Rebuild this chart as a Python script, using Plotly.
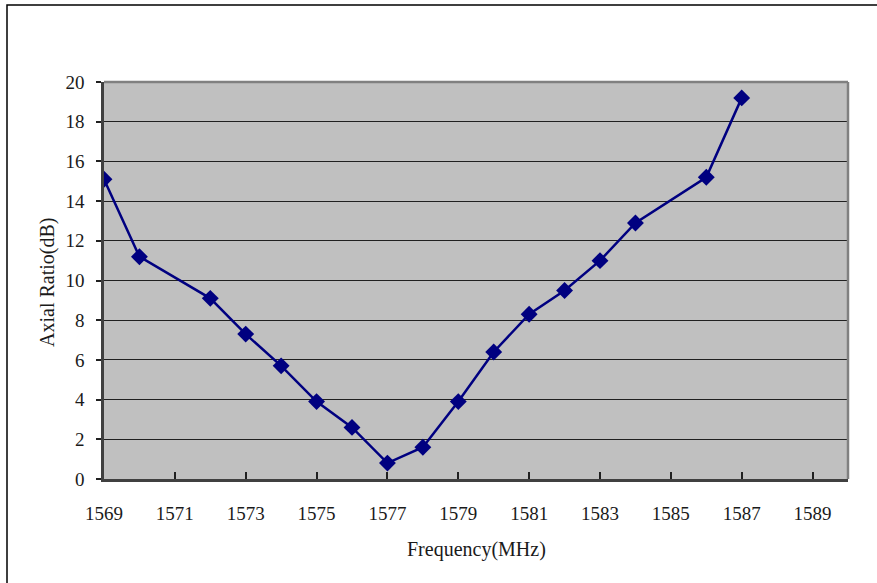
import plotly.graph_objects as go

freq = [1569, 1570, 1572, 1573, 1574, 1575, 1576, 1577, 1578, 1579, 1580, 1581, 1582, 1583, 1584, 1586, 1587]
axial_ratio = [15.1, 11.2, 9.1, 7.3, 5.7, 3.9, 2.6, 0.8, 1.6, 3.9, 6.4, 8.3, 9.5, 11.0, 12.9, 15.2, 19.2]
x_ticks = list(range(1569, 1590, 2))
y_ticks = list(range(0, 21, 2))

FONT = "Liberation Serif"
W, H = 877, 583
L, R, T, B = 104, 29, 82, 104
pw, ph = W - L - R, H - T - B

def px_x(p):
    return (p - L) / pw

def px_y(p):
    return (H - B - p) / ph

fig = go.Figure()
fig.add_trace(go.Scatter(
    x=freq, y=axial_ratio, mode="lines+markers",
    line=dict(color="#000080", width=2.5),
    marker=dict(symbol="diamond", size=13, color="#000080"),
    showlegend=False, hoverinfo="x+y",
))

fig.update_layout(
    width=W, height=H,
    margin=dict(l=L, r=R, t=T, b=B),
    paper_bgcolor="white",
    plot_bgcolor="#C0C0C0",
    font=dict(family=FONT, size=19, color="#1a1a1a"),
    xaxis=dict(
        range=[1569, 1590], tickvals=x_ticks, ticktext=[str(v) for v in x_ticks],
        ticks="inside", ticklen=7, tickwidth=1.5, tickcolor="#202020",
        showline=True, linecolor="#404040", linewidth=2.5,
        showgrid=False, zeroline=False, ticklabelstandoff=15,
        fixedrange=True,
    ),
    yaxis=dict(
        range=[0, 20], tickvals=y_ticks,
        ticks="outside", ticklen=5, tickwidth=1.5, tickcolor="#202020",
        showline=True, linecolor="#404040", linewidth=2.5,
        showgrid=True, gridcolor="#202020", gridwidth=1,
        zeroline=False, ticklabelstandoff=8,
        fixedrange=True,
    ),
    shapes=[
        dict(type="line", xref="paper", yref="paper", x0=0, x1=1, y0=1, y1=1,
             line=dict(color="#808080", width=2.5)),
        dict(type="line", xref="paper", yref="paper", x0=1, x1=1, y0=0, y1=1,
             line=dict(color="#808080", width=2.5)),
        dict(type="rect", xref="paper", yref="paper",
             x0=px_x(7), x1=px_x(880), y0=px_y(588), y1=px_y(5),
             line=dict(color="black", width=1.5), fillcolor="rgba(0,0,0,0)", layer="below"),
    ],
    annotations=[
        dict(text="Frequency(MHz)", xref="paper", yref="paper", x=px_x(476), y=px_y(549),
             showarrow=False, xanchor="center", yanchor="middle",
             font=dict(family=FONT, size=20, color="#1a1a1a")),
        dict(text="Axial Ratio(dB)", xref="paper", yref="paper", x=px_x(47), y=px_y(283),
             showarrow=False, xanchor="center", yanchor="middle", textangle=-90,
             font=dict(family=FONT, size=20, color="#1a1a1a")),
    ],
)

fig.write_html("out.html", config={"displayModeBar": False},
               post_script="document.body.style.margin='0';document.body.style.overflow='hidden';")
